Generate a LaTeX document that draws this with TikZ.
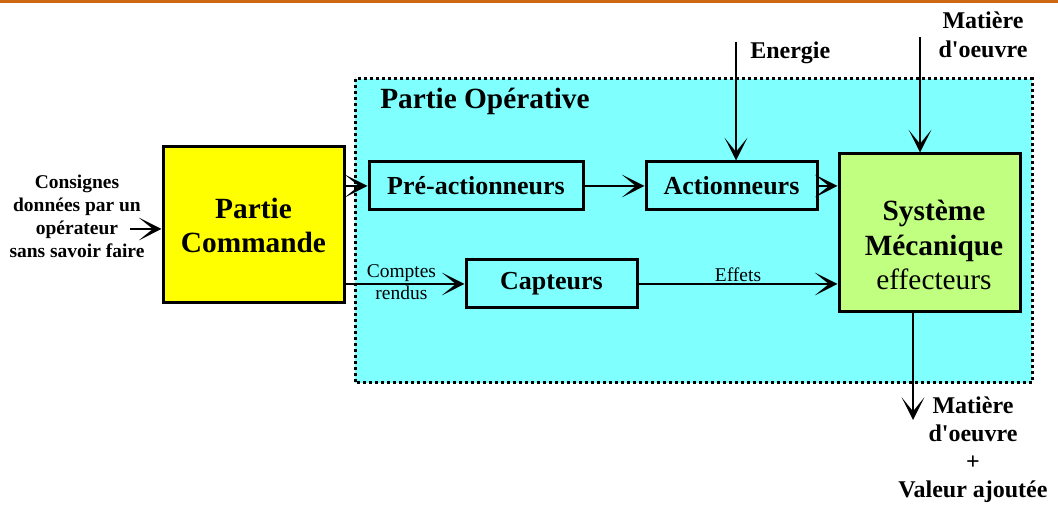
\documentclass[tikz,border=0pt]{standalone}
\usepackage{fontspec}
\setmainfont{Liberation Serif}
\usetikzlibrary{arrows.meta,positioning,calc}

\definecolor{opcyan}{RGB}{128,255,255}
\definecolor{cmdyellow}{RGB}{255,255,0}
\definecolor{sysgreen}{RGB}{192,255,128}
\definecolor{topline}{RGB}{206,104,20}

\tikzset{
	flowtip/.tip={Stealth[length=17pt,width=17pt,inset=10.5pt]}
}

\begin{document}
\begin{tikzpicture}[
	x=0.75pt,y=-0.75pt,
	flow/.style={-flowtip, line width=1.5pt},
	blockbox/.style={draw, line width=2.25pt, inner sep=0pt, align=center},
	bigtext/.style={font=\fontsize{22}{25.5}\selectfont\bfseries, align=center},
	boxtext/.style={font=\fontsize{19.5}{23}\selectfont\bfseries},
	midtext/.style={font=\fontsize{18}{21.5}\selectfont\bfseries, align=center, inner sep=0pt},
	smalltext/.style={font=\fontsize{14.6}{17.3}\selectfont, inner sep=1pt}
	]
	
	\useasboundingbox (0,0) rectangle (1058,505);
	
	% --------------------------
	% top rule
	% --------------------------
	\fill[topline] (0,0) rectangle (1058,3);
	
	% --------------------------
	% operative part (dotted frame)
	% --------------------------
	\fill[opcyan] (355,79) rectangle (1032,383);
	\draw[line width=2.25pt, dash pattern=on 2.25pt off 2.25pt] (355,79) rectangle (1032,383);
	\node[font=\fontsize{22}{25.5}\selectfont\bfseries, anchor=west, inner sep=0pt] (optitle) at (380,101) {Partie Opérative};
	
	% --------------------------
	% blocks
	% --------------------------
	\node[blockbox, bigtext, fill=cmdyellow, minimum width=135.75pt, minimum height=117pt] (cmd) at (253.5,225) {Partie\\Commande};
	\node[blockbox, boxtext, fill=opcyan, minimum width=160.5pt, minimum height=36pt] (pre) at (476,186) {Pré-actionneurs};
	\node[blockbox, boxtext, fill=opcyan, minimum width=128.25pt, minimum height=36pt] (act) at (731.5,186) {Actionneurs};
	\node[blockbox, boxtext, fill=opcyan, minimum width=128.25pt, minimum height=36pt] (cap) at (551.5,284) {Capteurs};
	\node[blockbox, fill=sysgreen, minimum width=135.75pt, minimum height=118.5pt] (sys) at (929.5,233) {};
	\node[font=\fontsize{22}{26}\selectfont, align=center] (systxt) at (934,245) {\textbf{Système}\\\textbf{Mécanique}\\effecteurs};
	
	% --------------------------
	% inputs / outputs
	% --------------------------
	\coordinate (consin) at (130,229);
	\coordinate (enin) at (736,42);
	\coordinate (matin) at (920,37);
	\coordinate (matout) at (913,420);
	
	\node[smalltext, font=\fontsize{14.6}{17.3}\selectfont\bfseries, align=center] (cons) at (77,216) {Consignes\\données par un\\opérateur\\sans savoir faire};
	\node[midtext, anchor=west] (entxt) at (750,53) {Energie};
	\node[midtext] (matintxt) at (983,35) {Matière\\d\textquotesingle oeuvre};
	\node[midtext, font=\fontsize{18}{21}\selectfont\bfseries] (matouttxt) at (973,450) {Matière\\d\textquotesingle oeuvre\\+\\Valeur ajoutée};
	
	% --------------------------
	% flows
	% --------------------------
	\draw[flow] (consin) -- (consin -| cmd.west);
	\draw[flow] (cmd.east |- pre.west) -- (pre.west);
	\draw[flow] (cmd.east |- cap.west) -- node[smalltext, pos=0.47, above] {Comptes} node[smalltext, pos=0.47, below] {rendus} (cap.west);
	\draw[flow] (pre) -- (act);
	\draw[flow] (act.east) -- (act.east -| sys.west);
	\draw[flow] (cap.east) -- node[smalltext, above] {Effets} (cap.east -| sys.west);
	\draw[flow] (enin) -- (enin |- act.north);
	\draw[flow] (matin) -- (matin |- sys.north);
	\draw[flow] (sys.south -| matout) -- (matout);
	
\end{tikzpicture}
\end{document}
